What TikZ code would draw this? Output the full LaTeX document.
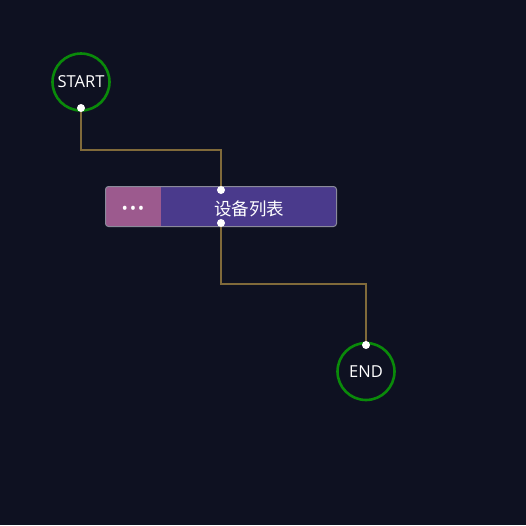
\documentclass[tikz,border=0pt]{standalone}
\usepackage{fontspec}
\setmainfont{Open Sans}
\newfontfamily\cjk{Noto Sans CJK SC}
\begin{document}
\begin{tikzpicture}[x=1pt,y=-1pt,
  term/.style={circle,draw=termgreen,line width=2.6pt,minimum size=57pt,inner sep=0pt,text=white,font=\fontsize{16.5}{18}\selectfont},
  port/.style={circle,fill=white,inner sep=0pt,minimum size=8pt},
  wire/.style={draw=wirec,line width=1.1pt},
]
\definecolor{bgc}{HTML}{0E1121}
\definecolor{termgreen}{HTML}{0A8A0A}
\definecolor{wirec}{HTML}{806A3A}
\definecolor{boxl}{HTML}{9C5A8E}
\definecolor{boxr}{HTML}{4A3A8C}
\definecolor{boxb}{HTML}{8A8A9A}
\useasboundingbox[fill=bgc] (0,0) rectangle (526,525);
% box
\fill[boxr,rounded corners=3pt] (105.5,186.5) rectangle (336.5,226.5);
\fill[boxl,rounded corners=3pt] (105.5,186.5) rectangle (165,226.5);
\fill[boxl] (155,186.5) rectangle (161,226.5);
\fill[boxr] (161,186.5) rectangle (170,226.5);
\node[draw=boxb,line width=1pt,rounded corners=3pt,minimum width=231pt,minimum height=40pt,inner sep=0pt] (task) at (221,206.5) {};
\node[text=white,font=\fontsize{17}{20}\selectfont] (more) at (133,210) {•\kern1.8pt•\kern1.8pt•};
\node[text=white,font=\cjk\fontsize{17.5}{20}\selectfont] (label) at (249,208.5) {设备列表};
% terminals
\node[term] (start) at (81,82) {START};
\node[term] (end) at (366,371.5) {END};
% ports
\coordinate (p1) at (81,108);
\coordinate (p2) at (221,190);
\coordinate (p3) at (221,223);
\coordinate (p4) at (366,345);
\draw[wire] (p1) -- (81,150) -- (221,150) -- (p2);
\draw[wire] (p3) -- (221,284) -- (366,284) -- (p4);
\node[port] (d1) at (p1) {};
\node[port] (d2) at (p2) {};
\node[port] (d3) at (p3) {};
\node[port] (d4) at (p4) {};
\end{tikzpicture}
\end{document}
